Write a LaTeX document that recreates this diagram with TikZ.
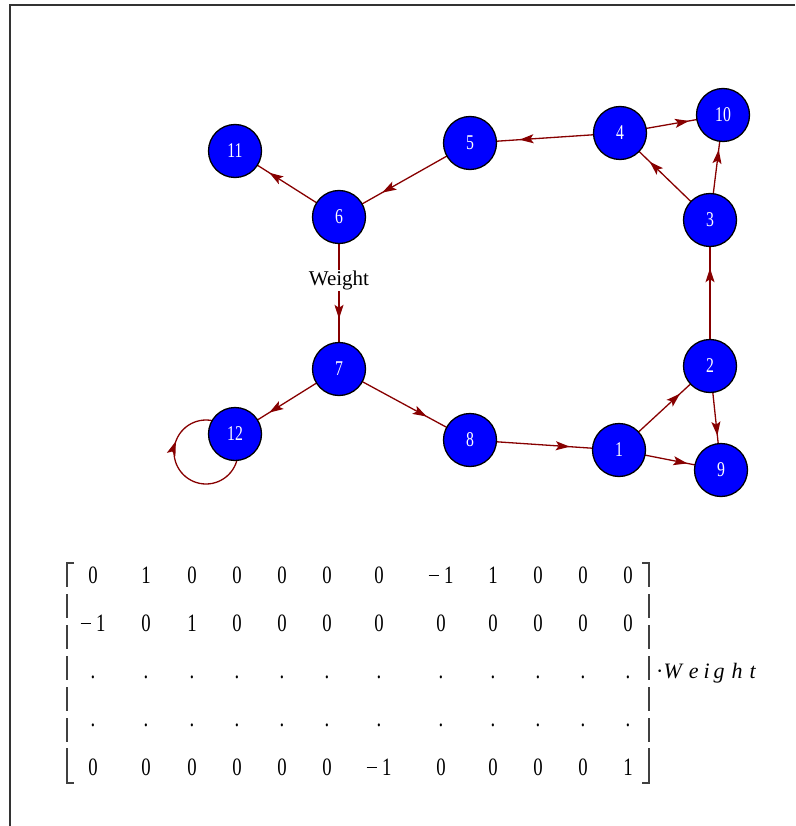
\documentclass[tikz,border=0pt]{standalone}
\usepackage{fontspec}
\setmainfont{Liberation Serif}
\newfontfamily\condfont[FakeStretch=0.75]{Liberation Serif}
\usetikzlibrary{arrows.meta, decorations.markings, backgrounds}
\definecolor{edgered}{RGB}{135,0,0}
\newcommand{\mone}{\rule[7pt]{10.5pt}{0.9pt}\hspace{5pt}1}
\newcommand{\mdot}{.}
\newcommand{\colxs}{{93,146,192,237,282,327,379,441,493,538,583,628}}

\begin{document}
\begin{tikzpicture}[x=1pt, y=-1pt,
        main/.style = {draw, circle, fill=blue, text=white, minimum size=53pt, inner sep=0pt, line width=1.3pt, font=\condfont\fontsize{21}{21}\selectfont},
        link/.style = {draw=edgered, line width=1.3pt, postaction={decorate}, decoration={markings, mark=at position #1 with {\arrow[edgered]{Stealth[length=14pt, width=9pt, inset=3pt]}}}},
        link/.default = 0.67,
        wlabel/.style = {fill=white, inner sep=1pt, font=\fontsize{21}{21}\selectfont},
        entry/.style = {anchor=base, inner sep=0pt, font=\condfont\fontsize{25}{25}\selectfont},
        bracket/.style = {line width=1.2pt, black!75}]
    \useasboundingbox (0,0) rectangle (795,826);
    \draw[line width=1.5pt, black!80] (10,826) -- (10,5) -- (795,5);

    \node[main] (1) at (619,450) {1};
    \node[main] (2) at (710,366) {2};
    \node[main] (3) at (710,220) {3};
    \node[main] (4) at (620,133) {4};
    \node[main] (5) at (470,143) {5};
    \node[main] (6) at (339,217) {6};
    \node[main] (7) at (339,369) {7};
    \node[main] (8) at (470,440) {8};
    \node[main] (9) at (721,470) {9};
    \node[main] (10) at (723,115) {10};
    \node[main] (11) at (235,151) {11};
    \node[main] (12) at (235,434) {12};

    \begin{scope}[on background layer]
        \draw[link] (6.center) -- (11.center);
        \draw[link] (5.center) -- (6.center);
        \draw[link] (4.center) -- (5.center);
        \draw[link] (4.center) -- (10.center);
        \draw[link] (3.center) -- (4.center);
        \draw[link] (3.center) -- (10.center);
        \draw[link] (2.center) -- (3.center);
        \draw[link] (2.center) -- (9.center);
        \draw[link] (1.center) -- (2.center);
        \draw[link] (1.center) -- (9.center);
        \draw[link] (8.center) -- (1.center);
        \draw[link] (7.center) -- (8.center);
        \draw[link] (7.center) -- (12.center);
        \draw[link] (6.center) -- node[wlabel, pos=0.42] (w) {Weight} (7.center);
        \draw[link=0.555] ([shift={(-29,18)}]12.center) circle[radius=32];
    \end{scope}

    % matrix below the graph
    \foreach \r/\yy/\vals in {1/583/{0,1,0,0,0,0,0,\mone,1,0,0,0},
                              2/631/{\mone,0,1,0,0,0,0,0,0,0,0,0},
                              3/678/{\mdot,\mdot,\mdot,\mdot,\mdot,\mdot,\mdot,\mdot,\mdot,\mdot,\mdot,\mdot},
                              4/726/{\mdot,\mdot,\mdot,\mdot,\mdot,\mdot,\mdot,\mdot,\mdot,\mdot,\mdot,\mdot},
                              5/775/{0,0,0,0,0,0,\mone,0,0,0,0,1}} {
        \foreach \v [count=\c] in \vals {
            \pgfmathsetmacro\xx{\colxs[\c-1]}
            \node[entry] (r\r-\c) at (\xx,\yy) {\v};
        }
    }
    \foreach \bx/\tx in {67/74, 649/642} {
        \draw[bracket] (\tx,563) -- (\bx,563) -- (\bx,587);
        \foreach \s in {594,625,656,687,718}
            \draw[bracket] (\bx,\s) -- ++(0,23.5);
        \draw[bracket] (\bx,748) -- (\bx,783) -- (\tx,783);
    }
    \node[anchor=base west, inner sep=0pt, font=\fontsize{22}{22}\selectfont] (mult) at (656,678)
        {·\textit{W\hspace{7pt}e\hspace{5pt}i\hspace{4pt}g\hspace{7pt}h\hspace{7pt}t}};
\end{tikzpicture}
\end{document}
